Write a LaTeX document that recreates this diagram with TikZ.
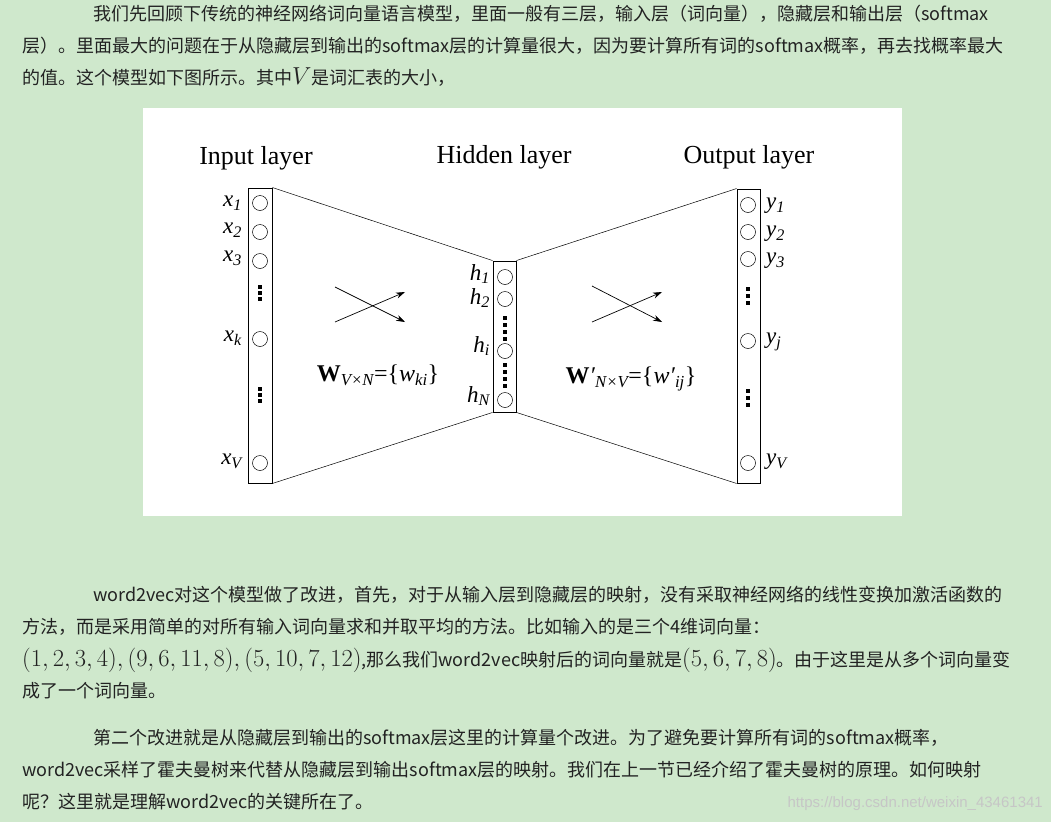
\documentclass[tikz,border=0pt]{standalone}
\usepackage{fontspec}
\setmainfont{Noto Sans CJK SC}
\newfontfamily\tms{Liberation Serif}
\newfontfamily\wmfont{Liberation Sans}
\usetikzlibrary{arrows.meta}
\definecolor{bg}{HTML}{CFE8CC}
\definecolor{txt}{HTML}{222222}
\newcommand\mybigmath[1]{\scalebox{1.42}{#1}}
\tikzset{
  para/.style={anchor=base west,inner sep=0pt,text=txt,font=\fontsize{18}{18}\selectfont},
  unit/.style={circle,draw,line width=0.5pt,minimum size=15pt,inner sep=0pt},
  layer/.style={draw,line width=0.9pt},
  lab/.style={inner sep=0pt,font=\tms\itshape\fontsize{23}{23}\selectfont},
  title/.style={inner sep=0pt,font=\tms\fontsize{26}{26}\selectfont},
  dotsq/.style={fill=black,minimum size=4pt,inner sep=0pt},
  conn/.style={line width=0.5pt},
  arr/.style={line width=0.7pt,-{Stealth[length=9pt,width=6pt]}}
}
\begin{document}
\begin{tikzpicture}[x=1pt,y=-1pt]
\fill[bg] (0,0) rectangle (1051,822);
\useasboundingbox (0,0) rectangle (1051,822);
% top text
\node[para] (t1) at (93,20) {我们先回顾下传统的神经网络词向量语言模型，里面一般有三层，输入层（词向量），隐藏层和输出层（softmax};
\node[para] (t2) at (22,52) {层）。里面最大的问题在于从隐藏层到输出的softmax层的计算量很大，因为要计算所有词的softmax概率，再去找概率最大};
\node[para] (t3) at (22,84) {的值。这个模型如下图所示。其中\mybigmath{$V$}是词汇表的大小，};
% white box
\fill[white] (143,108) rectangle (902,516);
% titles
\node[title] (ti) at (256,158) {Input layer};
\node[title] (th) at (504,157) {Hidden layer};
\node[title] (to) at (749,157) {Output layer};
% layers
\node[layer,minimum width=24pt,minimum height=295pt,inner sep=0pt] (L1) at (260,335.5) {};
\node[layer,minimum width=23pt,minimum height=151pt,inner sep=0pt] (L2) at (504.5,336.5) {};
\node[layer,minimum width=23pt,minimum height=294pt,inner sep=0pt] (L3) at (748.5,336) {};
% connectors
\draw[conn] (L1.north east) -- (L2.north west);
\draw[conn] (L1.south east) -- (L2.south west);
\draw[conn] (L2.north east) -- (L3.north west);
\draw[conn] (L2.south east) -- (L3.south west);
% input units
\foreach \n/\y in {a/203,b/232,c/261,k/339,v/463}{\node[unit] (x\n) at (260,\y) {};}
\foreach \n/\y in {1/287,2/293,3/299,4/389,5/395,6/401}{\node[dotsq] (dx\n) at (260,\y) {};}
\node[lab,anchor=east] (lx1) at (242,203) {x\textsubscript{1}};
\node[lab,anchor=east] (lx2) at (242,230) {x\textsubscript{2}};
\node[lab,anchor=east] (lx3) at (242,258) {x\textsubscript{3}};
\node[lab,anchor=east] (lxk) at (242,338) {x\textsubscript{k}};
\node[lab,anchor=east] (lxv) at (242,461) {x\textsubscript{V}};
% hidden units
\foreach \n/\y in {a/277,b/299,i/351,n/400}{\node[unit] (h\n) at (505,\y) {};}
\foreach \n/\y in {1/318,2/325,3/332,4/339,5/365,6/372,7/379,8/386}{\node[dotsq,minimum size=3.5pt] (dh\n) at (505,\y) {};}
\node[lab,anchor=east] (lh1) at (490,274) {h\textsubscript{1}};
\node[lab,anchor=east] (lh2) at (490,298) {h\textsubscript{2}};
\node[lab,anchor=east] (lhi) at (490,346) {h\textsubscript{i}};
\node[lab,anchor=east] (lhn) at (490,396) {h\textsubscript{N}};
% output units
\foreach \n/\y in {a/205,b/232,c/259,j/341,v/463}{\node[unit] (y\n) at (748,\y) {};}
\foreach \n/\y in {1/289,2/296,3/303,4/391,5/398,6/405}{\node[dotsq] (dy\n) at (748,\y) {};}
\node[lab,anchor=west] (ly1) at (766,206) {y\textsubscript{1}};
\node[lab,anchor=west] (ly2) at (766,234) {y\textsubscript{2}};
\node[lab,anchor=west] (ly3) at (766,261) {y\textsubscript{3}};
\node[lab,anchor=west] (lyj) at (766,342) {y\textsubscript{j}};
\node[lab,anchor=west] (lyv) at (766,462) {y\textsubscript{V}};
% crossing arrows
\coordinate (la1) at (335,287); \coordinate (la2) at (405,322);
\coordinate (la3) at (335,322); \coordinate (la4) at (405,292);
\draw[arr] (la1) -- (la2); \draw[arr] (la3) -- (la4);
\coordinate (ra1) at (592,286); \coordinate (ra2) at (662,322);
\coordinate (ra3) at (592,322); \coordinate (ra4) at (662,292);
\draw[arr] (ra1) -- (ra2); \draw[arr] (ra3) -- (ra4);
% weights
\node[inner sep=0pt,font=\tms\fontsize{24}{24}\selectfont] (w1) at (378,375) {\textbf{W}\textsubscript{\itshape V×N}=\{\textit{w}\textsubscript{\itshape ki}\}};
\node[inner sep=0pt,font=\tms\fontsize{24}{24}\selectfont] (w2) at (631,379) {\textbf{W}\textit{\char"2032}\textsubscript{\itshape N×V}=\{\textit{w\char"2032}\textsubscript{\itshape ij}\}};
% bottom text
\node[para] (b1) at (93,601) {word2vec对这个模型做了改进，首先，对于从输入层到隐藏层的映射，没有采取神经网络的线性变换加激活函数的};
\node[para] (b2) at (22,633) {方法，而是采用简单的对所有输入词向量求和并取平均的方法。比如输入的是三个4维词向量：};
\node[para] (b3) at (22,666) {\mybigmath{$(1,2,3,4),(9,6,11,8),(5,10,7,12)$},那么我们word2vec映射后的词向量就是\mybigmath{$(5,6,7,8)$}。由于这里是从多个词向量变};
\node[para] (b4) at (22,697) {成了一个词向量。};
\node[para] (b5) at (93,744) {第二个改进就是从隐藏层到输出的softmax层这里的计算量个改进。为了避免要计算所有词的softmax概率，};
\node[para] (b6) at (22,776) {word2vec采样了霍夫曼树来代替从隐藏层到输出softmax层的映射。我们在上一节已经介绍了霍夫曼树的原理。如何映射};
\node[para] (b7) at (22,808) {呢？这里就是理解word2vec的关键所在了。};
\node[anchor=base east,inner sep=0pt,text=white!55!gray,font=\wmfont\fontsize{15}{15}\selectfont] (wm) at (1043,807) {https://blog.csdn.net/weixin\_43461341};
\end{tikzpicture}
\end{document}
